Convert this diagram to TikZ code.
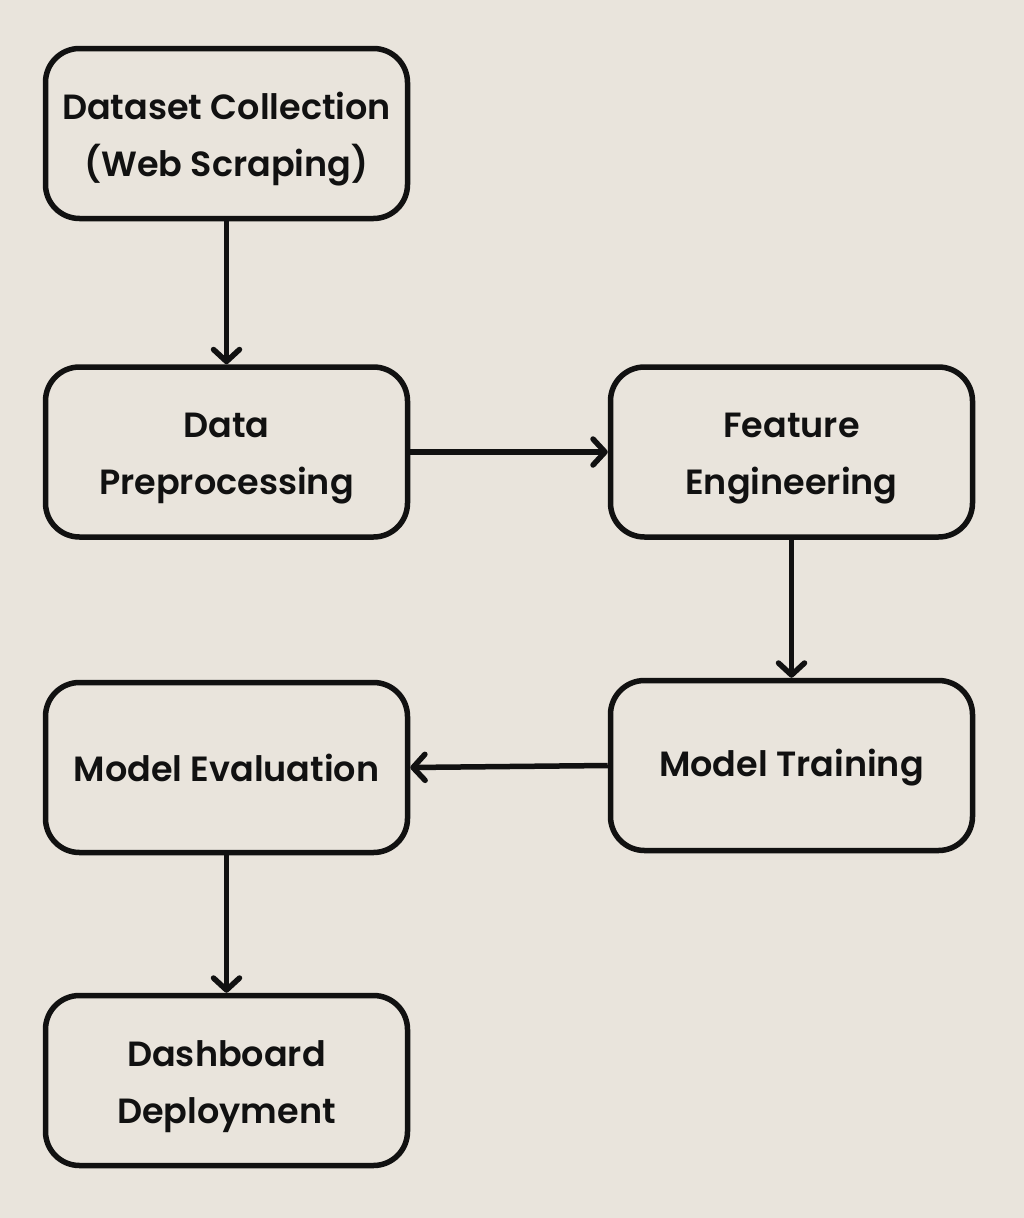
\documentclass[tikz,border=0pt]{standalone}
\usepackage{fontspec}
\setmainfont{Poppins}[BoldFont={Poppins SemiBold}]
\usetikzlibrary{arrows.meta}
\definecolor{paper}{HTML}{E9E4DC}
\definecolor{ink}{HTML}{111111}
\newcommand{\lift}{\rule{0pt}{38pt}}

\begin{document}
\begin{tikzpicture}[x=1pt,y=-1pt,
    stepbox/.style={draw=ink,line width=5.5pt,rounded corners=34pt,minimum width=362pt,minimum height=170pt,inner sep=0pt,align=center,font=\fontsize{35}{57}\selectfont\bfseries,text=ink},
    flow/.style={draw=ink,line width=5.5pt,-{Straight Barb[length=12pt,width=26pt,round]}}]
      \fill[paper] (0,0) rectangle (1024,1218);
      \useasboundingbox (0,0) rectangle (1024,1218);
      \node[stepbox] (collect) at (226.5,133.5) {\lift Dataset Collection\\(Web Scraping)};
      \node[stepbox] (prep) at (226.5,452) {\lift Data\\Preprocessing};
      \node[stepbox] (feat) at (791.5,452) {\lift Feature\\Engineering};
      \node[stepbox] (train) at (791.5,765.5) {\rule{0pt}{32pt}Model Training};
      \node[stepbox] (eval) at (226.5,767.5) {Model Evaluation};
      \node[stepbox] (dash) at (226.5,1080.5) {\lift Dashboard\\Deployment};
      \draw[flow] (collect) -- (prep);
      \draw[flow] (prep) -- (feat);
      \draw[flow] (feat) -- (train);
      \draw[flow] (train.west) -- (eval.east);
      \draw[flow] (eval) -- (dash);
\end{tikzpicture}
\end{document}
